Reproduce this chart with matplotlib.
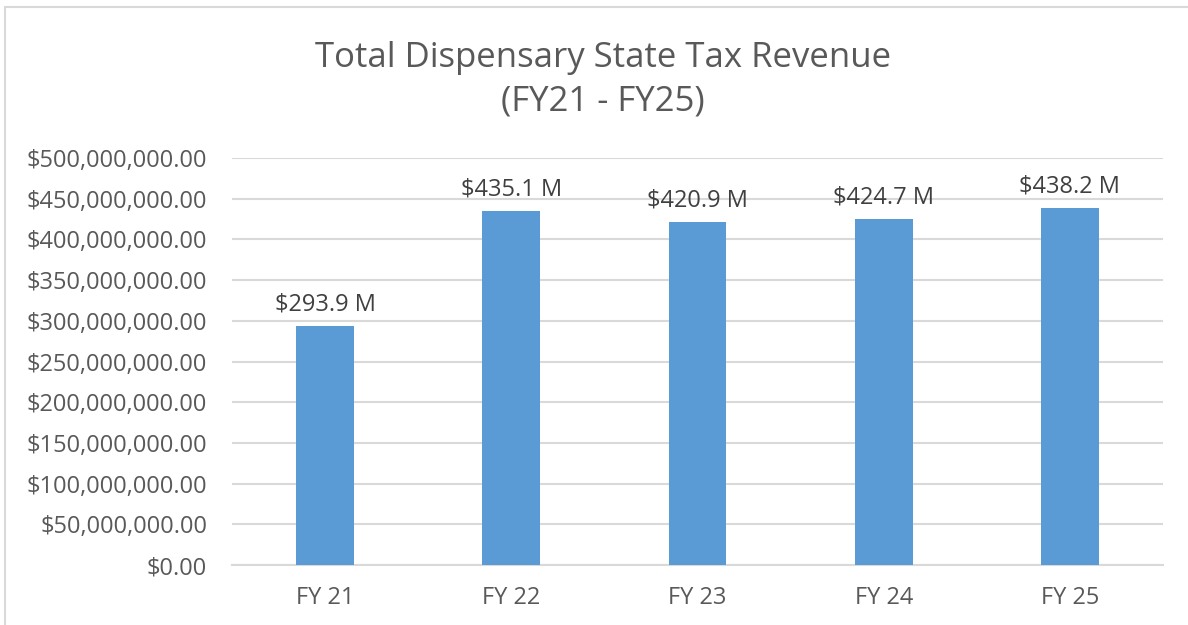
import matplotlib
matplotlib.use("Agg")
import matplotlib.pyplot as plt
from matplotlib.patches import Rectangle
from matplotlib.ticker import FuncFormatter

# chart data
years = ["FY 21", "FY 22", "FY 23", "FY 24", "FY 25"]
revenue = [293.9e6, 435.1e6, 420.9e6, 424.7e6, 438.2e6]
bar_labels = ["$293.9 M", "$435.1 M", "$420.9 M", "$424.7 M", "$438.2 M"]

TEXT = "#595959"
GRID = "#D9D9D9"
BAR = "#5B9BD5"


def money(v, pos):
    return "${:,.2f}".format(v)


def main():
    plt.rcParams["font.family"] = ["Open Sans", "DejaVu Sans"]

    fig = plt.figure(figsize=(11.88, 6.25), dpi=100)
    ax = fig.add_axes([232 / 1188, 1 - 565 / 625, (1163 - 232) / 1188, (565 - 158) / 625])

    # chart border like the excel frame
    fig.patches.append(Rectangle((5 / 1188, -0.1), 1.2, 1 - 7 / 625 + 0.1,
                                 transform=fig.transFigure, fill=False,
                                 edgecolor=GRID, linewidth=1.5))

    x = range(len(years))
    ax.bar(x, revenue, width=0.31, color=BAR, zorder=3)
    for i, (v, lab) in enumerate(zip(revenue, bar_labels)):
        ax.annotate(lab, (i, v), xytext=(0, 7), textcoords="offset points",
                    ha="center", va="bottom", fontsize=17, color="#404040")

    ax.set_xlim(-0.5, len(years) - 0.5)
    ax.set_ylim(0, 500e6)
    ax.set_yticks([i * 50e6 for i in range(11)])
    ax.yaxis.set_major_formatter(FuncFormatter(money))
    ax.set_xticks(list(x))
    ax.set_xticklabels(years)
    ax.tick_params(axis="both", length=0, labelsize=17, labelcolor=TEXT)
    ax.tick_params(axis="y", pad=18)
    ax.tick_params(axis="x", pad=15)
    ax.grid(axis="y", color=GRID, linewidth=1.5, zorder=0)
    for s in ["top", "right", "left"]:
        ax.spines[s].set_visible(False)
    ax.spines["bottom"].set_color(GRID)
    ax.spines["bottom"].set_linewidth(1.5)

    fig.text(0.5075, 1 - 80 / 625, "Total Dispensary State Tax Revenue\n(FY21 - FY25)",
             ha="center", va="center", fontsize=25, color=TEXT, linespacing=1.38)

    fig.savefig("out.png", dpi=100, facecolor="white")


if __name__ == "__main__":
    main()
